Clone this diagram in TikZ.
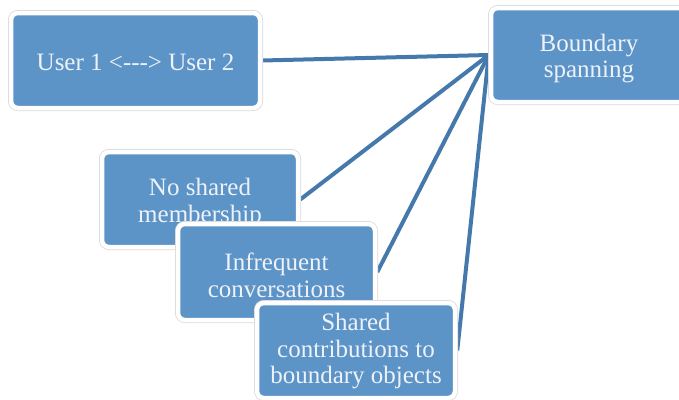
\documentclass[tikz,border=0pt]{standalone}
\usepackage{fontspec}
\setmainfont{Liberation Serif}[Ligatures=TeXOff]
\usetikzlibrary{backgrounds}
\definecolor{boxblue}{RGB}{92,148,200}
\definecolor{linkblue}{RGB}{70,121,171}
\definecolor{txtwhite}{RGB}{238,242,248}
\tikzset{
  x=1pt,y=-1pt,
  box/.style={fill=boxblue, draw=white, line width=4.5pt, rounded corners=7pt,
    preaction={draw=gray!30, line width=6pt}, inner sep=0pt},
  txt/.style={text=txtwhite, align=center, inner sep=0pt,
    font=\fontsize{25}{26.5}\selectfont},
  link/.style={draw=linkblue, line width=4pt}
}
\begin{document}
\begin{tikzpicture}
\useasboundingbox (0,0) rectangle (679,399);
\clip (0,0) rectangle (679,399);
\node[box, minimum width=249pt, minimum height=95pt] (u) at (135.5,60.5) {};
\node[txt] (ut) at ([yshift=-2pt]u.center) {User 1 <---> User 2};
\node[box, minimum width=196pt, minimum height=94pt] (b) at (589,55) {};
\node[txt] (bt) at ([yshift=-3.5pt]b.center) {Boundary\\spanning};
\node[box, minimum width=196pt, minimum height=95pt] (n) at (200,199.5) {};
\node[txt] (nt) at ([yshift=-3.5pt]n.center) {No shared\\membership};
\node[box, minimum width=197pt, minimum height=96pt] (i) at (276.5,272) {};
\node[txt] (it) at ([yshift=-3.5pt]i.center) {Infrequent\\conversations};
\node[box, minimum width=198pt, minimum height=95pt] (s) at (356,350.5) {};
\node[txt] (st) at ([yshift=-1pt]s.center) {Shared\\contributions to\\boundary objects};
\begin{scope}[on background layer]
\draw[link] (u.east) -- (b.west);
\draw[link] (n.east) -- (b.west);
\draw[link] (i.east) -- (b.west);
\draw[link] (s.east) -- (b.west);
\end{scope}
\end{tikzpicture}
\end{document}
